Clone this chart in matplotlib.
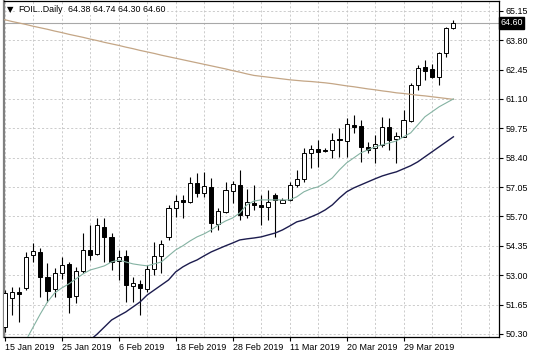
import matplotlib
matplotlib.use('Agg')
import matplotlib.pyplot as plt
import numpy as np

# Daily candles, FOIL, 15 Jan 2019 .. 9 Apr 2019
opens = [50.62, 51.96, 52.23, 52.41, 53.93, 54.07, 52.92, 52.37, 53.10, 53.52,
         52.05, 53.20, 54.16, 53.98, 55.22, 54.76, 53.66, 53.89, 52.51, 52.60,
         52.37, 53.29, 53.89, 54.76, 56.09, 56.46, 56.37, 57.24, 56.78, 57.06,
         55.36, 55.91, 56.87, 57.15, 55.77, 56.32, 56.23, 56.14, 56.69, 56.32,
         56.46, 57.15, 57.43, 58.62, 58.80, 58.76, 58.76, 59.24, 59.17, 59.91,
         59.86, 58.90, 58.85, 58.99, 59.82, 59.27, 59.36, 60.09, 61.75, 62.58,
         62.48, 62.12, 63.22, 64.38]
highs = [52.32, 52.46, 52.46, 54.07, 54.48, 54.25, 53.56, 53.33, 53.84, 53.61,
         53.38, 54.94, 55.31, 55.63, 55.63, 54.94, 54.16, 54.16, 52.92, 52.78,
         53.47, 54.53, 54.62, 56.23, 56.69, 56.69, 57.52, 57.70, 57.75, 57.47,
         56.09, 57.29, 57.33, 57.84, 56.97, 57.15, 56.69, 56.92, 56.78, 56.55,
         57.29, 57.84, 58.85, 58.99, 59.22, 58.85, 59.54, 59.77, 60.23, 60.37,
         60.14, 59.13, 59.45, 60.28, 60.23, 59.59, 60.60, 61.84, 62.67, 62.90,
         62.71, 63.27, 64.41, 64.74]
lows = [50.40, 51.17, 50.85, 52.32, 53.61, 51.99, 51.77, 51.99, 52.83, 51.26,
        51.72, 53.10, 53.70, 53.93, 53.61, 53.24, 52.78, 51.77, 51.77, 51.17,
        52.23, 53.01, 53.10, 54.62, 55.68, 55.63, 56.32, 56.60, 56.60, 54.99,
        55.08, 55.86, 56.32, 55.54, 55.63, 56.00, 55.31, 55.54, 54.76, 56.30,
        56.41, 57.06, 57.29, 57.93, 57.98, 58.67, 58.39, 58.44, 58.44, 59.54,
        58.21, 58.62, 58.16, 58.90, 58.76, 58.16, 59.34, 60.05, 61.52, 61.98,
        62.07, 61.75, 63.04, 64.30]
closes = [52.18, 52.23, 52.14, 53.84, 54.12, 52.92, 52.28, 53.10, 53.47, 51.99,
          53.20, 54.16, 53.93, 55.31, 54.76, 53.61, 53.84, 52.55, 52.64, 52.41,
          53.29, 53.89, 54.44, 56.09, 56.41, 56.37, 57.24, 56.78, 57.10, 55.40,
          55.95, 56.92, 57.20, 55.77, 56.37, 56.23, 56.14, 56.37, 56.46, 56.46,
          57.15, 57.43, 58.62, 58.80, 58.67, 58.72, 59.22, 59.20, 59.95, 59.82,
          58.90, 58.76, 59.03, 59.82, 59.22, 59.40, 60.14, 61.75, 62.53, 62.39,
          62.12, 63.22, 64.37, 64.60]

nan = np.nan
ma_slow = [64.74, 64.66, 64.59, 64.52, 64.44, 64.37, 64.30, 64.22, 64.15, 64.07,
           64.00, 63.93, 63.85, 63.78, 63.70, 63.63, 63.56, 63.48, 63.41, 63.33,
           63.26, 63.19, 63.11, 63.04, 62.97, 62.90, 62.83, 62.76, 62.69, 62.62,
           62.55, 62.48, 62.40, 62.33, 62.25, 62.18, 62.14, 62.10, 62.06, 62.02,
           61.98, 61.95, 61.92, 61.90, 61.87, 61.84, 61.80, 61.75, 61.70, 61.66,
           61.61, 61.56, 61.52, 61.47, 61.43, 61.38, 61.35, 61.31, 61.27, 61.24,
           61.20, 61.16, 61.12, 61.08]
ma_fast = [nan, nan, nan, 50.02, 50.62, 51.22, 51.77, 52.18, 52.41, 52.60,
           52.83, 53.06, 53.24, 53.33, 53.43, 53.61, 53.70, 53.61, 53.52, 53.47,
           53.43, 53.52, 53.61, 53.89, 54.16, 54.35, 54.57, 54.76, 54.90, 55.08,
           55.31, 55.49, 55.63, 55.86, 56.23, 56.41, 56.46, 56.46, 56.46, 56.46,
           56.46, 56.60, 56.83, 56.97, 57.06, 57.24, 57.47, 57.84, 58.16, 58.39,
           58.62, 58.76, 58.90, 58.99, 59.08, 59.17, 59.36, 59.54, 59.91, 60.28,
           60.51, 60.74, 60.92, 61.10]
ma_mid = [nan, nan, nan, nan, nan, nan, nan, nan, nan, nan,
          nan, nan, 50.02, 50.30, 50.62, 50.94, 51.13, 51.31, 51.54, 51.77,
          52.09, 52.32, 52.55, 52.78, 53.15, 53.38, 53.56, 53.70, 53.89, 54.07,
          54.21, 54.35, 54.48, 54.62, 54.67, 54.71, 54.76, 54.85, 54.94, 55.08,
          55.26, 55.45, 55.54, 55.68, 55.82, 56.00, 56.23, 56.55, 56.83, 57.01,
          57.15, 57.29, 57.43, 57.56, 57.66, 57.75, 57.89, 58.03, 58.21, 58.44,
          58.67, 58.90, 59.13, 59.36]

date_labels = ['15 Jan 2019', '25 Jan 2019', '6 Feb 2019', '18 Feb 2019',
               '28 Feb 2019', '11 Mar 2019', '20 Mar 2019', '29 Mar 2019']
price_ticks = [50.30, 51.65, 53.00, 54.35, 55.70, 57.05, 58.40,
               59.75, 61.10, 62.45, 63.80, 65.15]

plt.rcParams['font.family'] = ['Liberation Sans', 'DejaVu Sans']
fs = 6.4

W, H = 536, 358
fig = plt.figure(figsize=(W / 100, H / 100), dpi=100)
ax = fig.add_axes([4 / W, 21 / H, 495 / W, 336 / H])

x = np.arange(len(opens))
o = np.array(opens)
c = np.array(closes)

# grid
for gx in range(0, 70, 4):
    ax.axvline(gx, color='#c4c4c4', lw=0.6, ls=(0, (2.5, 2.5)), zorder=0)
for gy in price_ticks:
    ax.axhline(gy, color='#c4c4c4', lw=0.6, ls=(0, (2.5, 2.5)), zorder=0)

# current price line
ax.axhline(closes[-1], color='#a8a8a8', lw=0.8, zorder=1)

# candles
ax.vlines(x, lows, highs, color='black', lw=0.8, zorder=2)
up = c >= o
ax.bar(x[up], (c - o)[up], bottom=o[up], width=0.58, color='white',
       edgecolor='black', lw=0.7, zorder=3)
ax.bar(x[~up], (o - c)[~up], bottom=c[~up], width=0.58, color='black',
       edgecolor='black', lw=0.7, zorder=3)

# moving averages
ax.plot(x, ma_slow, color='#c4a686', lw=0.9, zorder=4)
ax.plot(x, ma_fast, color='#84b2a2', lw=0.8, zorder=4)
ax.plot(x, ma_mid, color='#1c1c4e', lw=1.0, zorder=4)

ax.set_xlim(-0.1, 69.4)
ax.set_ylim(50.16, 65.60)

ax.set_xticks(range(0, 8 * len(date_labels), 8))
ax.set_xticklabels(date_labels, ha='left', fontsize=fs)
ax.yaxis.tick_right()
ax.set_yticks(price_ticks)
ax.set_yticklabels([f'{p:.2f}' for p in price_ticks], fontsize=fs)
ax.tick_params(axis='x', length=3, width=0.8, pad=1.5)
ax.tick_params(axis='y', length=3, width=0.8, pad=1.5)

ax.spines['left'].set_color('#808080')
ax.spines['left'].set_linewidth(1.6)
for s in ['right', 'bottom', 'top']:
    ax.spines[s].set_color('black')
    ax.spines[s].set_linewidth(0.9)

# current price marker
ax.text(1.003, closes[-1], f'{closes[-1]:.2f}', transform=ax.get_yaxis_transform(),
        ha='left', va='center', color='white', fontsize=fs, zorder=10,
        bbox=dict(boxstyle='square,pad=0.15', fc='black', ec='black'), clip_on=False)

# header
hy = 1 - 10 / H
fig.text(7 / W, hy, '\u25bc', fontsize=6, va='center', ha='left',
         family=['DejaVu Sans'])
fig.text(18 / W, hy, 'FOIL..Daily', fontsize=fs, va='center', ha='left',
         bbox=dict(boxstyle='square,pad=0.1', fc='white', ec='none'))
fig.text(68 / W, hy, f'{opens[-1]:.2f} {highs[-1]:.2f} {lows[-1]:.2f} {closes[-1]:.2f}',
         fontsize=fs, va='center', ha='left',
         bbox=dict(boxstyle='square,pad=0.1', fc='white', ec='none'))

fig.savefig('out.png', dpi=100)
